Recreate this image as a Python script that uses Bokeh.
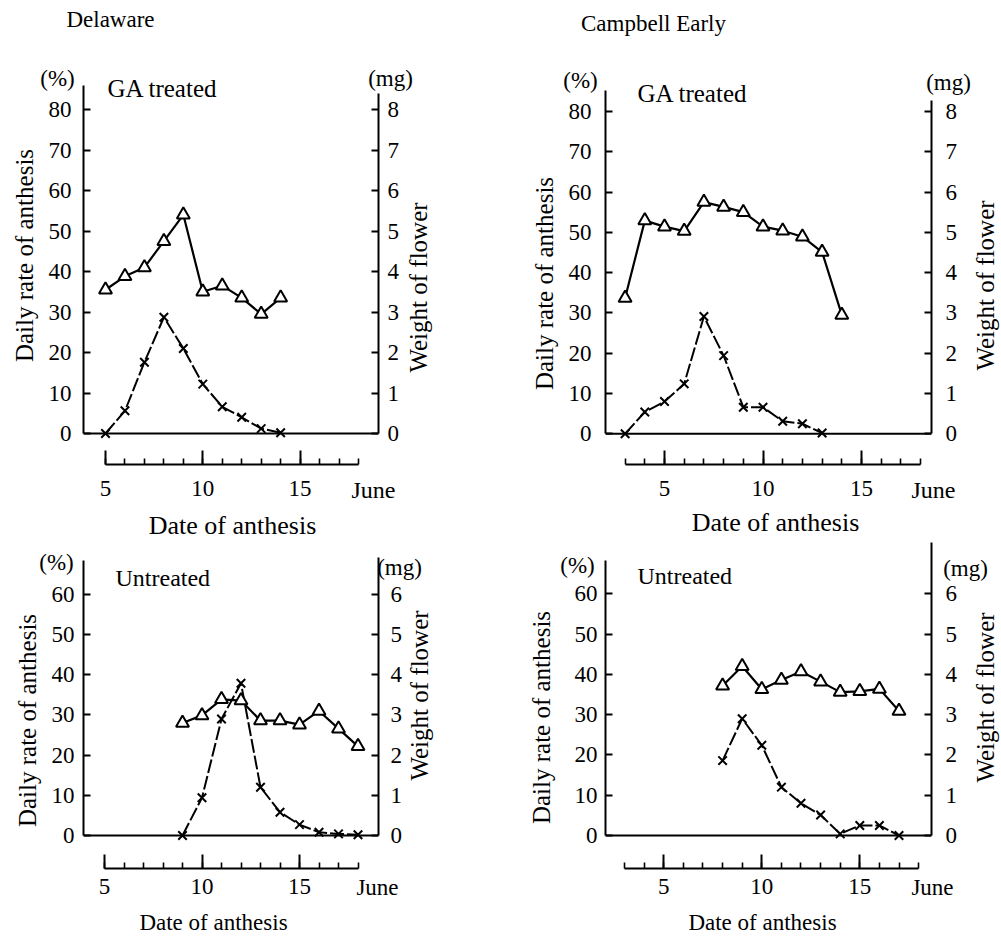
import math
from bokeh.plotting import figure
from bokeh.models import LinearAxis, Range1d, FixedTicker, Span, Label, GridBox
from bokeh.layouts import column, row
from bokeh.embed import file_html
from bokeh.resources import INLINE

# ---------------- data ----------------
# Delaware, GA treated
dl_ga_days = [5, 6, 7, 8, 9, 10, 11, 12, 13, 14]
dl_ga_rate = [0.0, 5.6, 17.6, 28.7, 21.0, 12.2, 6.6, 4.0, 1.2, 0.2]           # daily rate of anthesis (%)  x
dl_ga_weight = [3.55, 3.88, 4.10, 4.75, 5.40, 3.50, 3.65, 3.35, 2.95, 3.35]   # weight of flower (mg)  triangle

# Campbell Early, GA treated
cb_ga_rate_days = [3, 4, 5, 6, 7, 8, 9, 10, 11, 12, 13]
cb_ga_rate = [0.0, 5.4, 8.0, 12.4, 29.1, 19.4, 6.6, 6.6, 3.1, 2.5, 0.2]
cb_ga_weight_days = [3, 4, 5, 6, 7, 8, 9, 10, 11, 12, 13, 14]
cb_ga_weight = [3.37, 5.29, 5.14, 5.03, 5.75, 5.63, 5.50, 5.14, 5.04, 4.89, 4.51, 2.95]

# Delaware, untreated
dl_un_days = [9, 10, 11, 12, 13, 14, 15, 16, 17, 18]
dl_un_rate = [0.0, 9.4, 29.0, 37.9, 12.0, 5.8, 2.7, 0.8, 0.4, 0.2]
dl_un_weight = [2.80, 2.99, 3.39, 3.36, 2.86, 2.86, 2.76, 3.10, 2.66, 2.22]

# Campbell Early, untreated
cb_un_days = [8, 9, 10, 11, 12, 13, 14, 15, 16, 17]
cb_un_rate = [18.6, 29.0, 22.4, 12.0, 8.0, 5.1, 0.4, 2.5, 2.5, 0.0]
cb_un_weight = [3.72, 4.20, 3.63, 3.86, 4.07, 3.82, 3.56, 3.58, 3.64, 3.09]

pct_ticks_ga = [0, 10, 20, 30, 40, 50, 60, 70, 80]
mg_ticks_ga = [0, 1, 2, 3, 4, 5, 6, 7, 8]
pct_ticks_un = [0, 10, 20, 30, 40, 50, 60]
mg_ticks_un = [0, 1, 2, 3, 4, 5, 6]
date_major = [5, 10, 15]

# ---------------- styling ----------------
WORD = "Liberation Serif"
NUM = "Liberation Serif"
INK = "black"
V = math.pi / 2
PAGE_W, PAGE_H = 1000, 939


def make_panel(cfg, rate_days, rate, w_days, weight, pct_ticks, mg_ticks):
    p = figure(width=cfg["w"], height=cfg["h"],
               x_range=Range1d(cfg["x0"], cfg["x1"]),
               y_range=Range1d(cfg["y0"], cfg["y1"]),
               x_axis_type=None, y_axis_type=None,
               output_backend="svg", toolbar_location=None,
               min_border_left=cfg["mbl"], min_border_right=cfg["mbr"],
               min_border_top=cfg["mbt"], min_border_bottom=cfg["mbb"])
    p.outline_line_color = None
    p.background_fill_color = "white"
    p.border_fill_color = "white"

    common = dict(axis_line_color=INK, axis_line_width=2,
                  major_tick_line_color=INK, major_tick_line_width=2,
                  minor_tick_line_color=INK, minor_tick_line_width=1.6,
                  major_label_text_color=INK, major_label_text_font=NUM,
                  major_label_text_font_size="23px")

    left = LinearAxis(bounds=(0, cfg["ltop"]), ticker=FixedTicker(ticks=pct_ticks),
                      major_tick_in=7, major_tick_out=0, minor_tick_in=0, minor_tick_out=0,
                      major_label_standoff=cfg["ls"], **common)
    p.add_layout(left, "left")

    p.extra_y_ranges = {"mg": Range1d(cfg["y0"] / 10.0, cfg["y1"] / 10.0)}
    right = LinearAxis(y_range_name="mg", bounds=(0, cfg["rtop"]), ticker=FixedTicker(ticks=mg_ticks),
                       major_tick_in=7, major_tick_out=0, minor_tick_in=0, minor_tick_out=0,
                       major_label_standoff=cfg["rs_"], **common)
    p.add_layout(right, "right")

    ruler = LinearAxis(bounds=(cfg["rstart"], 18),
                       ticker=FixedTicker(ticks=date_major, minor_ticks=list(range(cfg["rstart"], 19))),
                       major_tick_in=14, major_tick_out=0, minor_tick_in=6, minor_tick_out=0,
                       major_label_standoff=cfg["ds"], **common)
    p.add_layout(ruler, "below")

    # bottom edge of the box (value 0)
    p.add_layout(Span(location=0, dimension="width", line_color=INK, line_width=2))

    # daily rate of anthesis (x)
    p.line(rate_days, rate, line_color=INK, line_width=2, line_dash="14 3")
    p.scatter(rate_days, rate, marker="x", size=12, line_color=INK, line_width=2)
    # weight of flower (triangles)
    p.line(w_days, weight, y_range_name="mg", line_color=INK, line_width=2.2)
    p.scatter(w_days, weight, y_range_name="mg", marker="triangle", size=13,
              fill_color="white", line_color=INK, line_width=2)
    return p


# borders are identical within a row / column so that frame alignment changes nothing
cfg1 = dict(w=500, h=540, mbl=83, mbr=122, mbt=85, mbb=76,
            x0=3.8695, x1=19.029, y0=-7.654, y1=85.93, ltop=85.93, rtop=8.4,
            rstart=5, ls=12, rs_=9, ds=16)
cfg2 = dict(w=500, h=540, mbl=105, mbr=69, mbt=85, mbb=76,
            x0=2.005, x1=18.553, y0=-7.618, y1=86.43, ltop=85.19, rtop=8.27,
            rstart=3, ls=14, rs_=14, ds=16)
cfg3 = dict(w=500, h=399, mbl=83, mbr=122, mbt=2, mbb=71,
            x0=3.923, x1=19.051, y0=-8.215, y1=72.94, ltop=68.46, rtop=6.92,
            rstart=5, ls=9, rs_=12, ds=10)
cfg4 = dict(w=500, h=399, mbl=105, mbr=69, mbt=2, mbb=71,
            x0=2.026, x1=18.658, y0=-8.19, y1=72.74, ltop=68.27, rtop=7.27,
            rstart=3, ls=8, rs_=14, ds=10)

p1 = make_panel(cfg1, dl_ga_days, dl_ga_rate, dl_ga_days, dl_ga_weight, pct_ticks_ga, mg_ticks_ga)
p2 = make_panel(cfg2, cb_ga_rate_days, cb_ga_rate, cb_ga_weight_days, cb_ga_weight, pct_ticks_ga, mg_ticks_ga)
p3 = make_panel(cfg3, dl_un_days, dl_un_rate, dl_un_days, dl_un_weight, pct_ticks_un, mg_ticks_un)
p4 = make_panel(cfg4, cb_un_days, cb_un_rate, cb_un_days, cb_un_weight, pct_ticks_un, mg_ticks_un)

# ---------------- text layer (page pixel coordinates) ----------------
C, Lf = "center", "left"
texts = [
    # panel 1
    ("Delaware", 110, 19, "23px", C, 0),
    ("(%)", 57, 78, "23px", C, 0),
    ("GA treated", 107, 88, "25px", Lf, 0),
    ("(mg)", 390, 78, "23px", C, 0),
    ("Daily rate of anthesis", 24, 255, "25px", C, V),
    ("Weight of flower", 418, 287, "25px", C, V),
    ("June", 373, 489, "24px", C, 0),
    ("Date of anthesis", 232, 525, "26px", C, 0),
    # panel 2
    ("Campbell Early", 653, 23, "23px", C, 0),
    ("(%)", 580, 80, "23px", C, 0),
    ("GA treated", 637, 93, "25px", Lf, 0),
    ("(mg)", 948, 82, "23px", C, 0),
    ("Daily rate of anthesis", 544, 283, "25px", C, V),
    ("Weight of flower", 985, 285, "25px", C, V),
    ("June", 933, 489, "24px", C, 0),
    ("Date of anthesis", 775, 522, "26px", C, 0),
    # panel 3
    ("(%)", 56, 562, "23px", C, 0),
    ("Untreated", 115, 577, "24px", Lf, 0),
    ("(mg)", 399, 567, "23px", C, 0),
    ("Daily rate of anthesis", 27, 720, "25px", C, V),
    ("Weight of flower", 419, 695, "25px", C, V),
    ("June", 377, 887, "23px", C, 0),
    ("Date of anthesis", 213, 922, "23px", C, 0),
    # panel 4
    ("(%)", 577, 565, "23px", C, 0),
    ("Untreated", 637, 575, "24px", Lf, 0),
    ("(mg)", 965, 568, "23px", C, 0),
    ("Daily rate of anthesis", 541, 717, "25px", C, V),
    ("Weight of flower", 985, 697, "25px", C, V),
    ("June", 932, 887, "23px", C, 0),
    ("Date of anthesis", 762, 922, "23px", C, 0),
]

tl = figure(width=PAGE_W, height=PAGE_H, x_range=Range1d(0, PAGE_W), y_range=Range1d(PAGE_H, 0),
            x_axis_type=None, y_axis_type=None, output_backend="svg", toolbar_location=None,
            min_border=0, min_border_left=0, min_border_right=0, min_border_top=0, min_border_bottom=0)
tl.outline_line_color = None
tl.background_fill_color = None
tl.border_fill_color = None
for (text, px, py, size, align, angle) in texts:
    tl.add_layout(Label(x=px, y=py, text=text, text_font=WORD, text_font_size=size,
                        text_align=align, text_baseline="middle", angle=angle, text_color=INK))

panels = column(row(p1, p2, spacing=0), row(p3, p4, spacing=0), spacing=0)
layout = GridBox(children=[(panels, 0, 0), (tl, 0, 0)], spacing=0)

open("out.html", "w").write(file_html(layout, INLINE, "Anthesis"))
